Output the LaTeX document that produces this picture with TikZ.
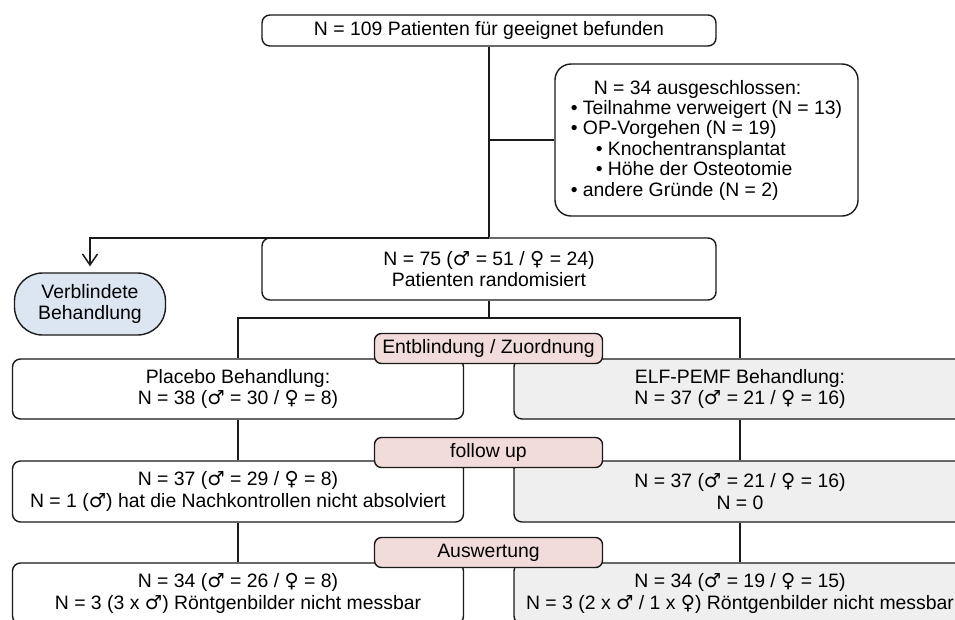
\documentclass[tikz,border=0pt]{standalone}
\usepackage{fontspec}
\setmainfont{Liberation Sans}
\newfontfamily\symfont{DejaVu Sans}
\newcommand{\ml}{{\symfont ♂}}
\newcommand{\fm}{{\symfont ♀}}
\usetikzlibrary{arrows.meta}
\definecolor{lineclr}{HTML}{1A1A1A}
\definecolor{blindblue}{HTML}{DCE6F2}
\definecolor{labelpink}{HTML}{F2DCDB}
\definecolor{elfgray}{HTML}{EFEFEF}
\begin{document}
\begin{tikzpicture}[x=1pt,y=-1pt,
  base/.style={draw=lineclr, line width=1.4pt, inner sep=0pt, align=center,
    font=\fontsize{19.4}{21.5}\selectfont, text=black},
  box/.style={base, rounded corners=8pt, fill=white},
  elfbox/.style={box, fill=elfgray},
  stagebox/.style={base, rounded corners=7pt, fill=labelpink, minimum width=228pt, minimum height=30pt},
  blindbox/.style={base, rounded corners=28pt, fill=blindblue, minimum width=151pt, minimum height=62pt},
  conn/.style={draw=lineclr, line width=1.5pt},
]
\path[use as bounding box] (0,0) rectangle (955,619);
\clip (0,0) rectangle (955,619);
\fill[white] (0,0) rectangle (955,619);

% top and exclusion
\node[box, minimum width=454pt, minimum height=31pt] (top) at (489,30.5) {N = 109 Patienten für geeignet befunden};
\node[box, minimum width=303pt, minimum height=152pt, align=left,
  font=\fontsize{19.4}{20.4}\selectfont, rounded corners=16pt] (excl) at (706.5,140)
  {\hspace*{23pt}N = 34 ausgeschlossen:\\
   • Teilnahme verweigert (N = 13)\\
   • OP-Vorgehen (N = 19)\\
   \hspace*{25pt}• Knochentransplantat\\
   \hspace*{25pt}• Höhe der Osteotomie\\
   • andere Gründe (N = 2)};
\node[box, minimum width=454pt, minimum height=62pt] (rand) at (489,269)
  {N = 75 (\ml{} = 51 / \fm{} = 24)\\Patienten randomisiert};
\node[blindbox] (blind) at (90,304) {Verblindete\\Behandlung};

\coordinate (split) at (489,238);
\coordinate (fork) at (489,318);

\draw[conn] (top.south) -- (rand.north);
\draw[conn] (top.south |- excl.west) -- (excl.west);
\draw[conn, -{Straight Barb[length=11pt,width=15pt,line width=1.5pt]}, shorten >=6pt] (split) -| (blind.north);

% rows
\node[box, minimum width=451pt, minimum height=60pt] (plac) at (238,389)
  {Placebo Behandlung:\\N = 38 (\ml{} = 30 / \fm{} = 8)};
\node[elfbox, minimum width=452pt, minimum height=60pt] (elf) at (740,389)
  {ELF-PEMF Behandlung:\\N = 37 (\ml{} = 21 / \fm{} = 16)};
\node[box, minimum width=451pt, minimum height=61pt] (plfu) at (238,491.5)
  {N = 37 (\ml{} = 29 / \fm{} = 8)\\N = 1 (\ml) hat die Nachkontrollen nicht absolviert};
\node[elfbox, minimum width=452pt, minimum height=61pt] (elffu) at (740,491.5)
  {N = 37 (\ml{} = 21 / \fm{} = 16)\\N = 0};
\node[box, minimum width=451pt, minimum height=61pt] (plaus) at (238,593.5)
  {N = 34 (\ml{} = 26 / \fm{} = 8)\\N = 3 (3 x \ml) Röntgenbilder nicht messbar};
\node[elfbox, minimum width=452pt, minimum height=61pt] (elfaus) at (740,593.5)
  {N = 34 (\ml{} = 19 / \fm{} = 15)\\N = 3 (2 x \ml{} / 1 x \fm) Röntgenbilder nicht messbar};

\draw[conn] (rand.south) -- (fork);
\draw[conn] (fork) -| (plac.north);
\draw[conn] (fork) -| (elf.north);
\draw[conn] (plac.south) -- (plfu.north);
\draw[conn] (elf.south) -- (elffu.north);
\draw[conn] (plfu.south) -- (plaus.north);
\draw[conn] (elffu.south) -- (elfaus.north);

% stage labels
\node[stagebox] (unblind) at (488.5,348.5) {Entblindung / Zuordnung};
\node[stagebox] (follow) at (488.5,452.5) {follow up};
\node[stagebox] (eval) at (488.5,552.5) {Auswertung};
\end{tikzpicture}
\end{document}
